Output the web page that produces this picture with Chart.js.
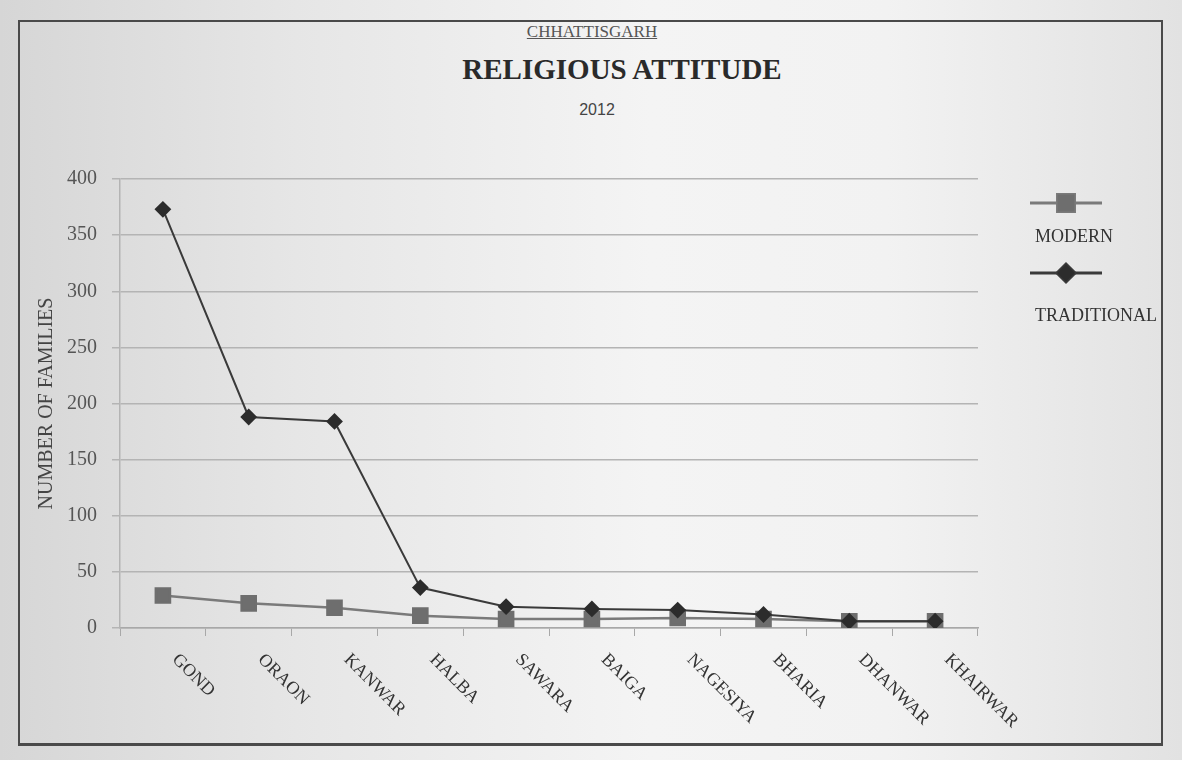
<!DOCTYPE html>
<html>
<head>
<meta charset="utf-8">
<script src="https://cdn.jsdelivr.net/npm/chart.js@4.4.0/dist/chart.umd.min.js"></script>
<style>
  html, body { margin: 0; padding: 0; }
  body {
    width: 1182px; height: 760px; overflow: hidden;
    background: linear-gradient(90deg, #d6d6d6 0%, #e6e6e6 25%, #f4f4f4 55%, #f2f2f2 75%, #e2e2e2 100%);
    font-family: "Liberation Serif", serif;
  }
  #wrap { position: relative; width: 1182px; height: 760px; }
  #frame {
    position: absolute; left: 18px; top: 20px; width: 1141px; height: 721px;
    border: 2px solid #4a4a4a; border-bottom-width: 3px;
  }
  .ttl { position: absolute; text-align: center; color: #333; white-space: nowrap; }
  #region { left: 442px; width: 300px; top: 22px; font-size: 17px; line-height: 20px; text-decoration: underline; color: #555; }
  #main { left: 372px; width: 500px; top: 52px; font-size: 29px; line-height: 34px; font-weight: bold; color: #2a2a2a; }
  #year { left: 547px; width: 100px; top: 100px; font-size: 16px; line-height: 20px; font-family: "Liberation Sans", sans-serif; color: #444; }
  canvas { position: absolute; left: 0; top: 0; }
</style>
</head>
<body>
<div id="wrap">
  <div id="frame"></div>
  <div class="ttl" id="region">CHHATTISGARH</div>
  <div class="ttl" id="main">RELIGIOUS ATTITUDE</div>
  <div class="ttl" id="year">2012</div>
  <canvas id="lineCanvas" width="1182" height="760"></canvas>
</div>
<script>
// tribes of Chhattisgarh, number of families by attitude
const tribes = ["GOND", "ORAON", "KANWAR", "HALBA", "SAWARA", "BAIGA", "NAGESIYA", "BHARIA", "DHANWAR", "KHAIRWAR"];
const modern = [29, 22, 18, 11, 8, 8, 9, 8, 6, 6];
const traditional = [373, 188, 184, 36, 19, 17, 16, 12, 6, 6];
const yTicks = [0, 50, 100, 150, 200, 250, 300, 350, 400];

const serif = '"Liberation Serif", "Times New Roman", serif';

// x labels slant down to the right, so they are drawn here; legend too
const slantPlugin = {
    id: 'slantLabels',
    afterDraw(chart) {
        const ctx = chart.ctx;
        const x = chart.scales.x;
        ctx.save();
        ctx.font = '18px ' + serif;
        ctx.fillStyle = '#333';
        ctx.textAlign = 'left';
        ctx.textBaseline = 'middle';
        tribes.forEach(function (t, i) {
            const px = x.getPixelForTick(i);
            ctx.save();
            ctx.translate(px + 12, x.top + 29);
            ctx.rotate(Math.PI / 4);
            ctx.fillText(t, 0, 0);
            ctx.restore();
        });

        // legend: marker line above, name below
        const r = chart.chartArea.right;
        const items = [
            { name: 'MODERN', ds: chart.data.datasets[0], y: 203, ty: 237, size: 12 },
            { name: 'TRADITIONAL', ds: chart.data.datasets[1], y: 273, ty: 316, size: 9 }
        ];
        items.forEach(function (it) {
            ctx.strokeStyle = it.ds.borderColor;
            ctx.lineWidth = 3;
            ctx.beginPath();
            ctx.moveTo(r + 52, it.y);
            ctx.lineTo(r + 124, it.y);
            ctx.stroke();
            Chart.helpers.drawPoint(ctx, {
                pointStyle: it.ds.pointStyle,
                radius: it.size,
                borderWidth: 1
            }, r + 88, it.y);
            ctx.fillStyle = it.ds.pointBackgroundColor;
            ctx.fill();
            ctx.fillStyle = '#333';
            ctx.font = '18px ' + serif;
            ctx.textAlign = 'left';
            ctx.fillText(it.name, r + 57, it.ty);
        });
        ctx.restore();
    }
};

const ctx = document.getElementById('lineCanvas').getContext('2d');
const myChart = new Chart(ctx, {
    type: 'line',
    data: {
        labels: tribes,
        datasets: [
            {
                label: 'MODERN',
                data: modern,
                borderColor: '#7a7a7a',
                borderWidth: 2.5,
                pointStyle: 'rect',
                pointRadius: 10,
                pointBackgroundColor: '#6e6e6e',
                pointBorderColor: '#6e6e6e',
                order: 2
            },
            {
                label: 'TRADITIONAL',
                data: traditional,
                borderColor: '#3a3a3a',
                borderWidth: 2,
                pointStyle: 'rectRot',
                pointRadius: 7,
                pointBackgroundColor: '#2c2c2c',
                pointBorderColor: '#2c2c2c',
                order: 1
            }
        ]
    },
    options: {
        responsive: false,
        animation: false,
        layout: {
            padding: { left: 32, right: 204, top: 179, bottom: 0 }
        },
        plugins: {
            legend: { display: false },
            tooltip: { enabled: false }
        },
        scales: {
            x: {
                offset: true,
                afterFit: function (s) { s.height = 132; },
                grid: {
                    offset: true,
                    drawOnChartArea: false,
                    drawTicks: true,
                    tickLength: 8,
                    color: '#a8a8a8'
                },
                border: { color: '#a8a8a8', width: 1.5 },
                ticks: { color: 'rgba(0,0,0,0)', maxRotation: 45, minRotation: 45 }
            },
            y: {
                min: 0,
                max: 400,
                afterFit: function (s) { s.width = 88; },
                afterBuildTicks: function (s) { s.ticks = yTicks.map(v => ({ value: v })); },
                grid: { color: '#b4b4b4', lineWidth: 1.5, tickLength: 8 },
                border: { color: '#b4b4b4', width: 1.5 },
                ticks: {
                    padding: 15,
                    color: '#555',
                    font: { family: serif, size: 20 }
                },
                title: {
                    display: true,
                    text: 'NUMBER OF FAMILIES',
                    color: '#444',
                    font: { family: serif, size: 20 },
                    padding: { top: 3, bottom: 0 }
                }
            }
        }
    },
    plugins: [slantPlugin]
});
</script>
</body>
</html>
